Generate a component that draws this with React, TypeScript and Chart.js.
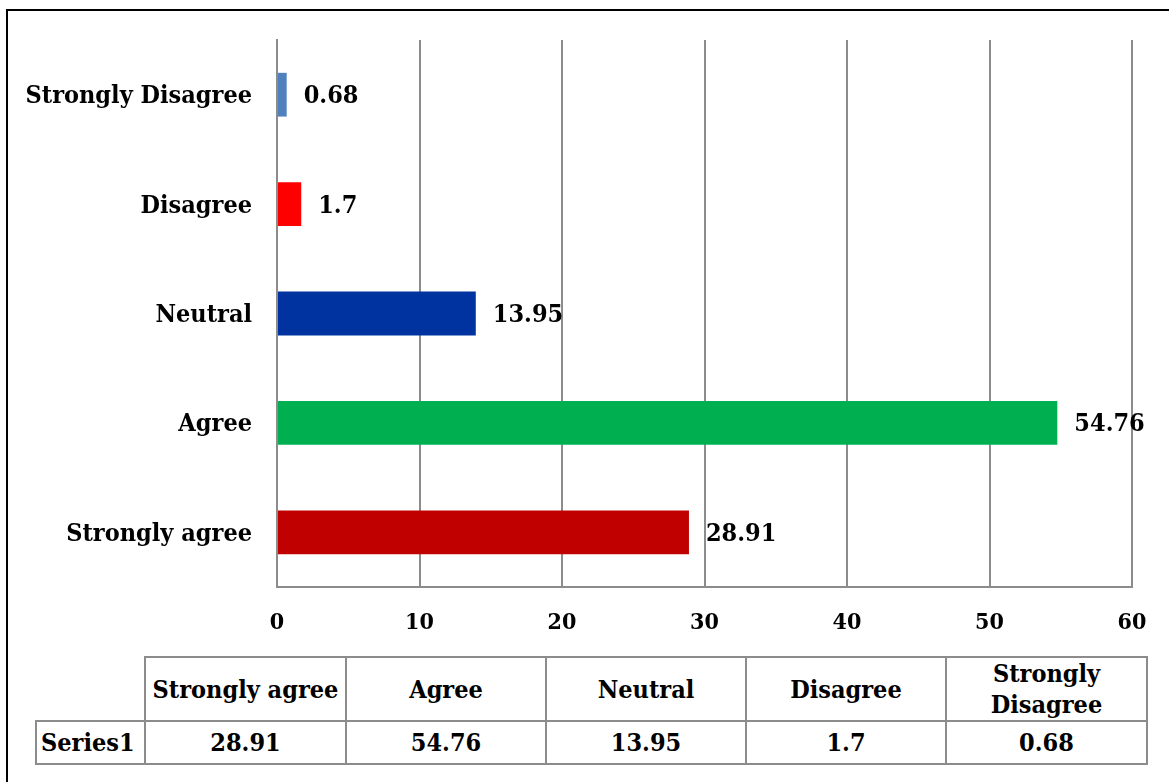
import React, { useEffect, useRef } from "react";
import { Chart, registerables } from "chart.js";
Chart.register(...registerables);

const categories = ["Strongly agree", "Agree", "Neutral", "Disagree", "Strongly Disagree"];
const values = [28.91, 54.76, 13.95, 1.7, 0.68];
const barColors = ["#C00000", "#00B050", "#0033A0", "#FF0000", "#4F81BD"];
const xTicks = [0, 10, 20, 30, 40, 50, 60];
const seriesName = "Series1";

const FONT = "'DejaVu Serif Condensed', 'DejaVu Serif', serif";
const GRID = "#8c8c8c";

const valueLabels = {
  id: "valueLabels",
  afterDatasetsDraw(chart: any) {
    const ctx = chart.ctx;
    ctx.save();
    ctx.font = `bold 25px ${FONT}`;
    ctx.fillStyle = "#000";
    ctx.textAlign = "left";
    ctx.textBaseline = "middle";
    chart.data.datasets.forEach((ds: any, di: number) => {
      const meta = chart.getDatasetMeta(di);
      meta.data.forEach((el: any, i: number) => {
        ctx.fillText(String(ds.data[i]), el.x + 17, el.y + 2);
      });
    });
    ctx.restore();
  },
};

function BarChart() {
  const ref = useRef<HTMLCanvasElement>(null);
  useEffect(() => {
    if (!ref.current) return;
    const chart = new Chart(ref.current, {
      type: "bar",
      data: {
        labels: categories,
        datasets: [
          {
            label: seriesName,
            data: values,
            backgroundColor: barColors,
            borderWidth: 0,
            barPercentage: 0.4,
            categoryPercentage: 1,
          },
        ],
      },
      options: {
        indexAxis: "y",
        responsive: false,
        animation: false,
        layout: { padding: { left: 0, top: 40, right: 37, bottom: 0 } },
        plugins: { legend: { display: false }, tooltip: { enabled: false } },
        scales: {
          x: {
            min: xTicks[0],
            max: xTicks[xTicks.length - 1],
            afterBuildTicks: (scale: any) => {
              scale.ticks = xTicks.map((v) => ({ value: v }));
            },
            afterFit: (scale: any) => {
              scale.height = 63;
            },
            grid: { color: GRID, lineWidth: 2, drawTicks: false },
            border: { display: true, color: GRID, width: 2 },
            ticks: {
              color: "#000",
              font: { family: FONT, size: 23, weight: "bold" },
              padding: 22,
            },
          },
          y: {
            reverse: true,
            afterFit: (scale: any) => {
              scale.width = 277;
            },
            grid: { display: false, drawTicks: false },
            border: { display: true, color: GRID, width: 2 },
            ticks: {
              color: "#000",
              font: { family: FONT, size: 25, weight: "bold" },
              padding: 25,
              labelOffset: 2,
            },
          },
        },
      } as any,
      plugins: [valueLabels],
    });
    return () => chart.destroy();
  }, []);
  return (
    <canvas
      ref={ref}
      width={1169}
      height={650}
      style={{ position: "absolute", left: 0, top: 0, width: 1169, height: 650 }}
    />
  );
}

const colWidths = [109, 201, 200, 200, 200, 201];

function DataTable() {
  const cell: React.CSSProperties = {
    border: `2px solid ${GRID}`,
    padding: 0,
    textAlign: "center",
    verticalAlign: "middle",
    fontFamily: FONT,
    fontWeight: "bold",
    fontSize: 25,
    lineHeight: "31px",
    color: "#000",
  };
  return (
    <table
      style={{
        position: "absolute",
        left: 35,
        top: 656,
        borderCollapse: "collapse",
        tableLayout: "fixed",
        width: colWidths.reduce((a, b) => a + b, 0),
      }}
    >
      <colgroup>
        {colWidths.map((w, i) => (
          <col key={i} style={{ width: w }} />
        ))}
      </colgroup>
      <tbody>
        <tr style={{ height: 64 }}>
          <td style={{ ...cell, border: "none" }}></td>
          {categories.map((c) => (
            <td key={c} style={cell}>
              {c}
            </td>
          ))}
        </tr>
        <tr style={{ height: 43 }}>
          <td style={{ ...cell, textAlign: "left", paddingLeft: 4 }}>{seriesName}</td>
          {values.map((v, i) => (
            <td key={i} style={cell}>
              {String(v)}
            </td>
          ))}
        </tr>
      </tbody>
    </table>
  );
}

export default function App() {
  return (
    <div
      style={{
        position: "absolute",
        left: 0,
        top: 0,
        width: 1169,
        height: 782,
        background: "#fff",
        overflow: "hidden",
      }}
    >
      <div
        style={{
          position: "absolute",
          left: 6,
          top: 9,
          right: 0,
          bottom: 0,
          borderLeft: "2px solid #000",
          borderTop: "2px solid #000",
        }}
      />
      <BarChart />
      <DataTable />
    </div>
  );
}
